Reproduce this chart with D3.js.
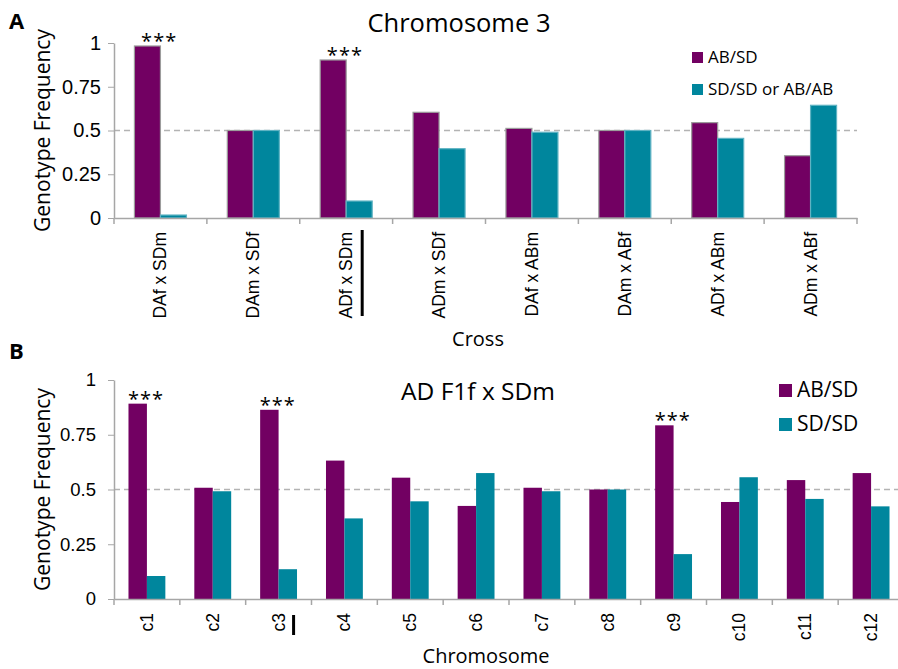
<!DOCTYPE html>
<html>
<head>
<meta charset="utf-8">
<script src="https://cdn.jsdelivr.net/npm/d3@7"></script>
<style>
  body { margin: 0; background: #fff; }
  svg { font-family: "Open Sans", "DejaVu Sans", sans-serif; }
  .axis path, .axis line { stroke: #a6a6a6; }
  .axis text { fill: #000; }
</style>
</head>
<body>
<div id="chart"></div>
<script>
// panel A: chromosome 3 across crosses
var crosses = ["DAf x SDm", "DAm x SDf", "ADf x SDm", "ADm x SDf", "DAf x ABm", "DAm x ABf", "ADf x ABm", "ADm x ABf"];
var crossHet = [0.983, 0.5, 0.903, 0.604, 0.512, 0.5, 0.545, 0.356];
var crossHom = [0.017, 0.5, 0.097, 0.396, 0.49, 0.5, 0.455, 0.644];
var crossStars = ["DAf x SDm", "ADf x SDm"];
var crossMarked = "ADf x SDm";

// panel B: AD F1f x SDm across chromosomes
var chroms = ["c1", "c2", "c3", "c4", "c5", "c6", "c7", "c8", "c9", "c10", "c11", "c12"];
var chromHet = [0.892, 0.508, 0.864, 0.632, 0.554, 0.425, 0.508, 0.5, 0.793, 0.443, 0.543, 0.575];
var chromHom = [0.105, 0.492, 0.136, 0.368, 0.446, 0.575, 0.492, 0.5, 0.205, 0.556, 0.457, 0.423];
var chromStars = ["c1", "c3", "c9"];
var chromMarked = "c3";

var yTicks = [0, 0.25, 0.5, 0.75, 1];
var purple = "#720062", teal = "#00869d";

var svg = d3.select("#chart").append("svg")
    .attr("width", 898)
    .attr("height", 669);

function drawPanel(opt) {
  var g = svg.append("g");
  var x = d3.scaleBand().domain(opt.cats).range([114, opt.xEnd]).paddingInner(0.44).paddingOuter(0.22);
  var xTick = d3.scaleBand().domain(opt.cats).range([114, opt.xEnd]);
  var y = d3.scaleLinear().domain([0, 1]).range([opt.y0, opt.y1]);
  var sub = d3.scaleBand().domain([0, 1]).range([0, x.bandwidth()]);

  // dashed 0.5 line
  g.append("line")
    .attr("x1", 114).attr("x2", opt.xEnd)
    .attr("y1", y(0.5)).attr("y2", y(0.5))
    .attr("stroke", "#b3b3b3").attr("stroke-width", 1.5)
    .attr("stroke-dasharray", "6,4");

  var rows = opt.cats.map(function(c, i) { return {cat: c, vals: [opt.het[i], opt.hom[i]]}; });
  var grp = g.selectAll(".grp").data(rows).enter().append("g")
    .attr("transform", function(d) { return "translate(" + x(d.cat) + ",0)"; });
  grp.selectAll("rect").data(function(d) { return d.vals; }).enter().append("rect")
    .attr("x", function(d, i) { return sub(i); })
    .attr("y", function(d) { return y(d); })
    .attr("width", sub.bandwidth())
    .attr("height", function(d) { return y(0) - y(d); })
    .attr("fill", function(d, i) { return i == 0 ? purple : teal; })
    .attr("stroke", function(d, i) { return opt.outline ? (i == 0 ? "#9c9c9c" : "#5fb3c3") : "none"; })
    .attr("stroke-width", 1.2);

  // significance stars
  g.selectAll(".star").data(rows.filter(function(d) { return opt.stars.indexOf(d.cat) >= 0; }))
    .enter().append("text")
    .attr("x", function(d) { return x(d.cat) + sub.bandwidth() * 0.95; })
    .attr("y", function(d) { return y(d.vals[0]) + 2; })
    .attr("text-anchor", "middle")
    .style("font-size", "20px")
    .style("letter-spacing", "1px")
    .text("***");

  // y axis
  var ya = g.append("g").attr("class", "axis")
    .attr("transform", "translate(114,0)")
    .call(d3.axisLeft(y).tickValues(yTicks).tickFormat(d3.format("")).tickSize(6).tickSizeOuter(0));
  ya.selectAll("text").style("font-size", opt.yFont).attr("x", opt.yLabX);
  ya.select(".domain").attr("stroke-width", 1.5);

  // x axis
  var xa = g.append("g").attr("class", "axis")
    .attr("transform", "translate(0," + opt.y0 + ")")
    .call(d3.axisBottom(xTick).tickValues([]).tickSizeOuter(0));
  xa.select(".domain").attr("stroke-width", 1.5);
  xa.selectAll(".bnd").data(opt.cats.concat(["end"])).enter().append("line")
    .attr("x1", function(d, i) { return 114 + i * xTick.step(); })
    .attr("x2", function(d, i) { return 114 + i * xTick.step(); })
    .attr("y1", 0).attr("y2", 6)
    .style("stroke-width", 1.5);
  xa.selectAll(".lbl").data(opt.cats).enter().append("text")
    .attr("transform", function(d) { return "translate(" + (xTick(d) + xTick.bandwidth() / 2 + 6) + ",14) rotate(-90)"; })
    .attr("text-anchor", "end")
    .style("font-size", "17.5px")
    .text(function(d) { return d; });

  // marker bar next to the label
  var mx = xTick(opt.marked) + xTick.bandwidth() / 2 + opt.markDx;
  xa.append("line")
    .attr("x1", mx).attr("x2", mx)
    .attr("y1", opt.markY[0]).attr("y2", opt.markY[1])
    .style("stroke", "#000").style("stroke-width", 3);

  // titles
  g.append("text").attr("x", opt.titleX).attr("y", opt.titleY)
    .attr("text-anchor", "middle").style("font-size", opt.titleFont).text(opt.title);
  g.append("text").attr("x", opt.xTitleX).attr("y", opt.xTitleY)
    .attr("text-anchor", "middle").style("font-size", "20px").text(opt.xTitle);
  g.append("text")
    .attr("transform", "translate(50," + (opt.y0 + opt.y1) / 2 + ") rotate(-90)")
    .attr("text-anchor", "middle").style("font-size", "21px").text("Genotype Frequency");
  g.append("text").attr("x", 9).attr("y", opt.letterY)
    .style("font-size", "22px").style("font-weight", "bold").text(opt.letter);

  // legend
  var lg = g.selectAll(".leg").data(opt.legend).enter().append("g")
    .attr("transform", function(d, i) { return "translate(" + opt.legX + "," + (opt.legY + i * opt.legGap) + ")"; });
  lg.append("rect").attr("x", 0).attr("y", -opt.legBox)
    .attr("width", opt.legBox).attr("height", opt.legBox)
    .attr("fill", function(d, i) { return i == 0 ? purple : teal; });
  lg.append("text").attr("x", opt.legBox + 5).attr("y", 0)
    .style("font-size", opt.legFont).text(function(d) { return d; });
}

drawPanel({
  cats: crosses, het: crossHet, hom: crossHom, stars: crossStars, marked: crossMarked,
  xEnd: 857, y0: 218, y1: 43, outline: true, yFont: "20px", yLabX: -13,
  markDx: 16, markY: [12, 98],
  title: "Chromosome 3", titleX: 459, titleY: 32, titleFont: "25.5px",
  xTitle: "Cross", xTitleX: 478, xTitleY: 346,
  letter: "A", letterY: 29,
  legend: ["AB/SD", "SD/SD or AB/AB"], legX: 692, legY: 63, legGap: 32, legBox: 11, legFont: "17px"
});

drawPanel({
  cats: chroms, het: chromHet, hom: chromHom, stars: chromStars, marked: chromMarked,
  xEnd: 904, y0: 599, y1: 380, outline: false, yFont: "18.5px", yLabX: -18,
  markDx: 15, markY: [16, 36],
  title: "AD F1f x SDm", titleX: 478, titleY: 400, titleFont: "24.5px",
  xTitle: "Chromosome", xTitleX: 486, xTitleY: 663,
  letter: "B", letterY: 359,
  legend: ["AB/SD", "SD/SD"], legX: 779, legY: 397, legGap: 34, legBox: 13, legFont: "21px"
});
</script>
</body>
</html>
